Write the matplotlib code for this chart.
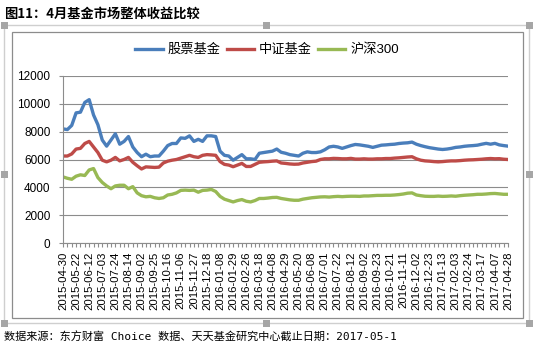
import matplotlib
matplotlib.use('Agg')
import matplotlib.pyplot as plt
import numpy as np
from matplotlib.patches import Rectangle

# 画布尺寸 (像素)
W, H = 533, 348

# 横轴标签 (每3周一个)
date_labels = [
    '2015-04-30', '2015-05-22', '2015-06-12', '2015-07-03', '2015-07-24', '2015-08-14',
    '2015-09-02', '2015-09-25', '2015-10-16', '2015-11-06', '2015-11-27', '2015-12-18',
    '2016-01-08', '2016-01-29', '2016-02-26', '2016-03-18', '2016-04-08', '2016-04-29',
    '2016-05-20', '2016-06-08', '2016-07-01', '2016-07-22', '2016-08-12', '2016-09-02',
    '2016-09-23', '2016-10-21', '2016-11-11', '2016-12-02', '2016-12-23', '2017-01-13',
    '2017-02-03', '2017-02-24', '2017-03-17', '2017-04-07', '2017-04-28',
]

# 股票基金
stock_fund = [
    8200, 8150, 8450, 9350, 9400, 10100, 10300, 9200, 8500, 7400,
    6960, 7400, 7850, 7100, 7300, 7650, 6900, 6500, 6200, 6380,
    6200, 6250, 6250, 6600, 7000, 7150, 7150, 7550, 7520, 7700,
    7300, 7450, 7300, 7700, 7700, 7650, 6600, 6300, 6250, 5950,
    6150, 6350, 6050, 6050, 6000, 6450, 6500, 6550, 6600, 6750,
    6520, 6450, 6350, 6300, 6250, 6450, 6550, 6500, 6500, 6550,
    6700, 6900, 6950, 6900, 6800, 6900, 7000, 7080, 7050, 7000,
    6950, 6870, 6950, 7030, 7050, 7080, 7100, 7150, 7180, 7200,
    7250, 7100, 7000, 6920, 6850, 6800, 6750, 6720, 6750, 6800,
    6870, 6900, 6950, 6980, 7000, 7030, 7100, 7160, 7100, 7160,
    7050, 7000, 6960,
]

# 中证基金
index_fund = [
    6250, 6250, 6400, 6750, 6800, 7150, 7300, 6900, 6500, 5950,
    5830, 5950, 6150, 5900, 6000, 6150, 5800, 5550, 5320, 5470,
    5450, 5430, 5450, 5750, 5880, 5950, 6000, 6100, 6200, 6300,
    6200, 6150, 6300, 6350, 6330, 6300, 5850, 5650, 5600, 5480,
    5600, 5720, 5500, 5500, 5650, 5800, 5830, 5850, 5880, 5900,
    5750, 5720, 5680, 5660, 5670, 5750, 5800, 5850, 5880, 6000,
    6050, 6050, 6080, 6070, 6050, 6050, 6080, 6030, 6030, 6050,
    6030, 6030, 6050, 6050, 6070, 6070, 6100, 6120, 6150, 6180,
    6200, 6050, 5950, 5900, 5880, 5850, 5830, 5850, 5880, 5900,
    5900, 5920, 5950, 5970, 5980, 6000, 6020, 6050, 6070, 6050,
    6060, 6020, 6000,
]

# 沪深300
hs300 = [
    4750, 4650, 4580, 4800, 4900, 4850, 5250, 5350, 4700, 4350,
    4100, 3900, 4100, 4150, 4150, 3900, 4050, 3600, 3400, 3320,
    3350, 3250, 3200, 3250, 3450, 3500, 3600, 3780, 3800, 3780,
    3800, 3650, 3780, 3800, 3850, 3700, 3350, 3150, 3050, 2950,
    3050, 3120, 3000, 2950, 3050, 3200, 3200, 3230, 3270, 3280,
    3200, 3150, 3100, 3070, 3070, 3150, 3200, 3250, 3280, 3310,
    3320, 3300, 3330, 3350, 3330, 3350, 3360, 3360, 3350, 3380,
    3380, 3400, 3420, 3420, 3430, 3430, 3450, 3480, 3520, 3580,
    3600, 3450, 3400, 3360, 3350, 3350, 3370, 3350, 3360, 3380,
    3360, 3400, 3430, 3450, 3470, 3500, 3500, 3520, 3550, 3560,
    3530, 3500, 3500,
]

series_names = ['股票基金', '中证基金', '沪深300']
series_colors = ['#4A7EBB', '#BE4B48', '#98B954']

plt.rcParams['font.family'] = ['Liberation Sans', 'Noto Sans CJK SC']


def fx(px):
    return px / W


def fy(py):
    return 1 - py / H


fig = plt.figure(figsize=(W / 100, H / 100), dpi=100)

# 图片外框 (选中框) 与图表边框
fig.add_artist(Rectangle((fx(4), fy(323)), fx(529) - fx(4), fy(25) - fy(323),
                         transform=fig.transFigure, fill=False, ec='#cfcfcf', lw=1))
fig.add_artist(Rectangle((fx(12), fy(318)), fx(523) - fx(12), fy(32) - fy(318),
                         transform=fig.transFigure, fill=False, ec='#8c8c8c', lw=0.9))
for hx in (4, 266, 529):
    for hy in (25, 174, 323):
        if hx == 266 and hy == 174:
            continue
        fig.add_artist(Rectangle((fx(hx - 3.5), fy(hy + 3.5)), 7 / W, 7 / H,
                                 transform=fig.transFigure, fc='#a6a6a6', ec='none'))

ax = fig.add_axes([fx(63), fy(243), fx(508) - fx(63), fy(76) - fy(243)])
x = np.arange(len(stock_fund))
for vals, name, col in zip([stock_fund, index_fund, hs300], series_names, series_colors):
    ax.plot(x, vals, color=col, lw=2.4, label=name, solid_joinstyle='round')

ax.set_xlim(0, len(stock_fund) - 1)
ax.set_ylim(0, 12000)
ax.set_yticks(np.arange(0, 12001, 2000))
ax.set_yticklabels([str(v) for v in range(0, 12001, 2000)], fontsize=8.5)
ax.set_xticks(x[::3])
ax.set_xticklabels(date_labels, rotation=90, fontsize=8.2)
ax.set_xticks(x, minor=True)
ax.grid(axis='y', color='#8c8c8c', lw=0.8)
ax.set_axisbelow(True)
for s in ['top', 'right']:
    ax.spines[s].set_visible(False)
for s in ['left', 'bottom']:
    ax.spines[s].set_color('#8c8c8c')
    ax.spines[s].set_linewidth(0.8)
ax.tick_params(axis='both', which='both', color='#8c8c8c', length=3, width=0.8)
ax.tick_params(axis='y', pad=6)
ax.tick_params(axis='x', pad=3)

fig.legend(loc='center', bbox_to_anchor=(fx(267), fy(50)), ncol=3, frameon=False,
           fontsize=9.5, handlelength=2.1, handletextpad=0.35, columnspacing=0.45)

fig.text(fx(4), fy(14), '图11：4月基金市场整体收益比较', fontsize=9.5, fontweight='bold',
         family=['Noto Sans CJK SC'], ha='left', va='center')
fig.text(fx(4), fy(337), '数据来源：东方财富 Choice 数据、天天基金研究中心截止日期：2017-05-1',
         fontsize=8.0, family=['DejaVu Sans Mono', 'Noto Sans CJK SC'], ha='left', va='center')

fig.savefig('out.png', dpi=100)
